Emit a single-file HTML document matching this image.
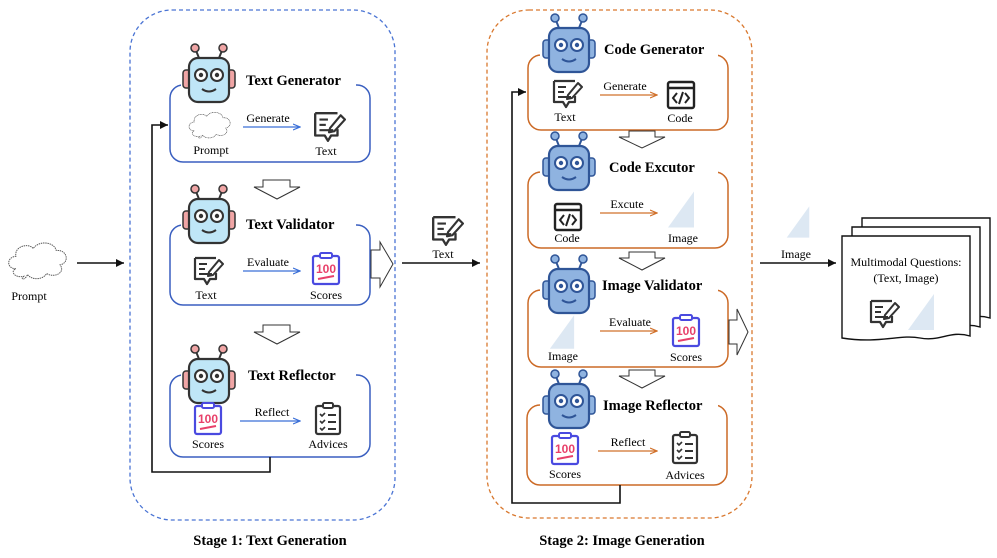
<!DOCTYPE html>
<html><head><meta charset="utf-8"><style>
body{margin:0;background:#fff}
svg{display:block}
text{font-family:"Liberation Serif",serif}
</style></head><body>
<svg width="997" height="558" viewBox="0 0 997 558" xmlns="http://www.w3.org/2000/svg">
<defs>
<marker id="ab" markerWidth="8" markerHeight="8" refX="7" refY="4" orient="auto" markerUnits="userSpaceOnUse"><path d="M0,1 L7,4 L0,7" fill="none" stroke="#3a6fd8" stroke-width="1.2"/></marker>
<marker id="ao" markerWidth="8" markerHeight="8" refX="7" refY="4" orient="auto" markerUnits="userSpaceOnUse"><path d="M0,1 L7,4 L0,7" fill="none" stroke="#d0702a" stroke-width="1.2"/></marker>
<marker id="ak" markerWidth="10" markerHeight="10" refX="8" refY="5" orient="auto" markerUnits="userSpaceOnUse"><path d="M0,1 L8,5 L0,9 Z" fill="#111"/></marker>
<symbol id="robot1" viewBox="0 0 56 64">
<line x1="18" y1="16" x2="14" y2="6" stroke="#333" stroke-width="2"/><line x1="38" y1="16" x2="42" y2="6" stroke="#333" stroke-width="2"/>
<circle cx="14" cy="6" r="4" fill="#f0a5a5" stroke="#333" stroke-width="1.5"/><circle cx="42" cy="6" r="4" fill="#f0a5a5" stroke="#333" stroke-width="1.5"/>
<rect x="2" y="28" width="8" height="18" rx="3" fill="#f0a5a5" stroke="#333" stroke-width="1.5"/><rect x="46" y="28" width="8" height="18" rx="3" fill="#f0a5a5" stroke="#333" stroke-width="1.5"/>
<rect x="8" y="16" width="40" height="44" rx="9" fill="#bfe6f7" stroke="#333" stroke-width="2.2"/>
<circle cx="20" cy="33" r="6" fill="#fff" stroke="#333" stroke-width="2"/><circle cx="36" cy="33" r="6" fill="#fff" stroke="#333" stroke-width="2"/>
<circle cx="20" cy="33" r="2.2" fill="#333"/><circle cx="36" cy="33" r="2.2" fill="#333"/>
<path d="M21 47 Q28 52 35 47" fill="none" stroke="#333" stroke-width="2"/>
</symbol>
<symbol id="robot2" viewBox="0 0 56 64">
<line x1="18" y1="16" x2="14" y2="6" stroke="#2f5597" stroke-width="2"/><line x1="38" y1="16" x2="42" y2="6" stroke="#2f5597" stroke-width="2"/>
<circle cx="14" cy="6" r="4" fill="#8fb3e0" stroke="#2f5597" stroke-width="1.5"/><circle cx="42" cy="6" r="4" fill="#8fb3e0" stroke="#2f5597" stroke-width="1.5"/>
<rect x="2" y="28" width="8" height="18" rx="3" fill="#8fb3e0" stroke="#2f5597" stroke-width="1.5"/><rect x="46" y="28" width="8" height="18" rx="3" fill="#8fb3e0" stroke="#2f5597" stroke-width="1.5"/>
<rect x="8" y="16" width="40" height="44" rx="9" fill="#8fb3e0" stroke="#2f5597" stroke-width="2.2"/>
<circle cx="20" cy="33" r="6" fill="#fff" stroke="#2f5597" stroke-width="2"/><circle cx="36" cy="33" r="6" fill="#fff" stroke="#2f5597" stroke-width="2"/>
<circle cx="20" cy="33" r="2.2" fill="#2f5597"/><circle cx="36" cy="33" r="2.2" fill="#2f5597"/>
<path d="M21 47 Q28 52 35 47" fill="none" stroke="#2f5597" stroke-width="2"/>
</symbol>
<symbol id="texticon" viewBox="0 0 32 32">
<path d="M3 3 H24 M3 3 V24 H12 L15 29 L18 24 H24 V18" fill="none" stroke="#333" stroke-width="2.2" stroke-linejoin="round"/>
<line x1="7" y1="9" x2="15" y2="9" stroke="#333" stroke-width="2"/><line x1="7" y1="14" x2="13" y2="14" stroke="#333" stroke-width="2"/><line x1="7" y1="19" x2="20" y2="19" stroke="#333" stroke-width="2"/>
<path d="M17 17 L27 5 L31 9 L21 20 L16 21 Z" fill="none" stroke="#333" stroke-width="2" stroke-linejoin="round"/>
</symbol>
<symbol id="scores" viewBox="0 0 30 34">
<rect x="2" y="4" width="26" height="28" rx="2" fill="#fff" stroke="#4a4ae0" stroke-width="2.2"/>
<rect x="9" y="1" width="12" height="5" rx="1.5" fill="#fff" stroke="#4a4ae0" stroke-width="2"/>
<text x="15" y="21" text-anchor="middle" font-size="12" font-weight="bold" fill="#e8406a" style="font-family:'Liberation Sans',sans-serif">100</text>
<line x1="7" y1="27" x2="23" y2="24" stroke="#e8406a" stroke-width="2"/>
</symbol>
<symbol id="advices" viewBox="0 0 30 34">
<rect x="3" y="4" width="24" height="28" rx="2" fill="#fff" stroke="#333" stroke-width="2.2"/>
<rect x="10" y="1" width="10" height="5" rx="1.5" fill="#fff" stroke="#333" stroke-width="2"/>
<path d="M7 12 l2 2 l3 -3 M7 19 l2 2 l3 -3 M7 26 l2 2 l3 -3" fill="none" stroke="#333" stroke-width="1.6"/>
<line x1="15" y1="13" x2="23" y2="13" stroke="#333" stroke-width="2"/><line x1="15" y1="20" x2="23" y2="20" stroke="#333" stroke-width="2"/><line x1="15" y1="27" x2="23" y2="27" stroke="#333" stroke-width="2"/>
</symbol>
<symbol id="code" viewBox="0 0 30 30">
<rect x="2" y="2" width="26" height="26" rx="2" fill="#fff" stroke="#222" stroke-width="2.4"/>
<line x1="2" y1="8" x2="28" y2="8" stroke="#222" stroke-width="2.4"/>
<path d="M11 13 L7 18 L11 23 M19 13 L23 18 L19 23 M17 12 L13 24" fill="none" stroke="#222" stroke-width="2"/>
</symbol>
<symbol id="tri" viewBox="0 0 30 40">
<path d="M2 38 L28 2 L28 38 Z" fill="#dde8f3"/>
<text x="30" y="22" font-size="3" fill="#666">b</text>
</symbol>
<symbol id="cloud" viewBox="0 0 70 50">
<path d="M12 32 C2 32 2 20 12 19 C10 8 26 5 30 11 C36 2 52 4 54 13 C66 12 68 26 58 28 C64 36 52 42 44 37 C40 44 28 44 24 38 C22 44 16 44 20 40 C10 42 6 34 12 32 Z" fill="#fff" stroke="#555" stroke-width="1" stroke-dasharray="1.5 0.8"/>
</symbol>
</defs>

<!-- Stage containers -->
<rect x="130" y="10" width="265" height="510" rx="42" fill="none" stroke="#4a74d4" stroke-width="1.3" stroke-dasharray="4 3"/>
<rect x="487" y="10" width="265" height="508" rx="42" fill="none" stroke="#d9782e" stroke-width="1.3" stroke-dasharray="4 3"/>

<!-- Prompt -->
<use href="#cloud" x="4" y="238" width="68" height="48"/>
<text x="29" y="300" font-size="12" text-anchor="middle">Prompt</text>
<line x1="77" y1="263" x2="124" y2="263" stroke="#111" stroke-width="1.6" marker-end="url(#ak)"/>

<!-- Stage 1 boxes -->
<g fill="none" stroke="#3a5fc0" stroke-width="1.5">
<rect x="170" y="85" width="200" height="77" rx="13"/>
<rect x="170" y="225" width="200" height="80" rx="13"/>
<rect x="170" y="375" width="200" height="82" rx="13"/>
</g>
<g fill="#fff" stroke="none">
<rect x="181" y="70" width="175" height="22"/>
<rect x="181" y="212" width="175" height="20"/>
<rect x="181" y="362" width="175" height="20"/>
</g>
<use href="#robot1" x="181" y="42" width="56" height="64"/>
<use href="#robot1" x="181" y="183" width="56" height="64"/>
<use href="#robot1" x="181" y="343" width="56" height="64"/>
<g font-size="14.5" font-weight="bold">
<text x="246" y="85">Text Generator</text>
<text x="246" y="229">Text Validator</text>
<text x="248" y="380">Text Reflector</text>
</g>
<!-- row 1 -->
<use href="#cloud" x="186" y="108" width="48" height="36"/>
<text x="211" y="154" font-size="12" text-anchor="middle">Prompt</text>
<text x="268" y="122" font-size="12" text-anchor="middle">Generate</text>
<line x1="243" y1="127" x2="300" y2="127" stroke="#3a6fd8" stroke-width="1.2" marker-end="url(#ab)"/>
<use href="#texticon" x="312" y="110" width="34" height="34"/>
<text x="326" y="155" font-size="12" text-anchor="middle">Text</text>
<!-- row 2 -->
<use href="#texticon" x="192" y="255" width="32" height="32"/>
<text x="206" y="299" font-size="12" text-anchor="middle">Text</text>
<text x="268" y="266" font-size="12" text-anchor="middle">Evaluate</text>
<line x1="243" y1="271" x2="300" y2="271" stroke="#3a6fd8" stroke-width="1.2" marker-end="url(#ab)"/>
<use href="#scores" x="311" y="251" width="30" height="36"/>
<text x="326" y="299" font-size="12" text-anchor="middle">Scores</text>
<!-- row 3 -->
<use href="#scores" x="193" y="401" width="30" height="36"/>
<text x="208" y="448" font-size="12" text-anchor="middle">Scores</text>
<text x="272" y="416" font-size="12" text-anchor="middle">Reflect</text>
<line x1="240" y1="421" x2="300" y2="421" stroke="#3a6fd8" stroke-width="1.2" marker-end="url(#ab)"/>
<use href="#advices" x="313" y="401" width="30" height="36"/>
<text x="328" y="448" font-size="12" text-anchor="middle">Advices</text>
<!-- hollow down arrows stage1 -->
<g fill="#fff" stroke="#333" stroke-width="1">
<path d="M263 180 H290 V187 H300 L277 199 L254 187 H263 Z"/>
<path d="M263 325 H290 V332 H300 L277 344 L254 332 H263 Z"/>
<path d="M371 250 H380 V242 L393 264 L380 287 V278 H371 Z"/>
</g>
<!-- feedback stage1 -->
<path d="M270 457 V472 H152 V125 H168" fill="none" stroke="#111" stroke-width="1.6" marker-end="url(#ak)"/>

<!-- middle text -->
<use href="#texticon" x="430" y="214" width="34" height="34"/>
<text x="443" y="258" font-size="12" text-anchor="middle">Text</text>
<line x1="402" y1="263" x2="480" y2="263" stroke="#111" stroke-width="1.6" marker-end="url(#ak)"/>

<!-- Stage 2 boxes -->
<g fill="none" stroke="#cc6a26" stroke-width="1.5">
<rect x="528" y="55" width="200" height="75" rx="13"/>
<rect x="528" y="172" width="200" height="76" rx="13"/>
<rect x="528" y="290" width="200" height="77" rx="13"/>
<rect x="527" y="405" width="200" height="80" rx="13"/>
</g>
<g fill="#fff" stroke="none">
<rect x="540" y="40" width="178" height="22"/>
<rect x="540" y="158" width="178" height="20"/>
<rect x="540" y="276" width="178" height="20"/>
<rect x="540" y="392" width="178" height="20"/>
</g>
<use href="#robot2" x="541" y="12" width="56" height="64"/>
<use href="#robot2" x="541" y="130" width="56" height="64"/>
<use href="#robot2" x="541" y="253" width="56" height="64"/>
<use href="#robot2" x="541" y="368" width="56" height="64"/>
<g font-size="14.5" font-weight="bold">
<text x="604" y="54">Code Generator</text>
<text x="609" y="172">Code Excutor</text>
<text x="602" y="290">Image Validator</text>
<text x="603" y="410">Image Reflector</text>
</g>
<!-- s2 row1 -->
<use href="#texticon" x="551" y="78" width="32" height="32"/>
<text x="565" y="121" font-size="12" text-anchor="middle">Text</text>
<text x="625" y="90" font-size="12" text-anchor="middle">Generate</text>
<line x1="600" y1="95" x2="657" y2="95" stroke="#d0702a" stroke-width="1.2" marker-end="url(#ao)"/>
<use href="#code" x="666" y="80" width="30" height="30"/>
<text x="680" y="122" font-size="12" text-anchor="middle">Code</text>
<!-- s2 row2 -->
<use href="#code" x="553" y="202" width="30" height="30"/>
<text x="567" y="242" font-size="12" text-anchor="middle">Code</text>
<text x="627" y="208" font-size="12" text-anchor="middle">Excute</text>
<line x1="600" y1="213" x2="657" y2="213" stroke="#d0702a" stroke-width="1.2" marker-end="url(#ao)"/>
<use href="#tri" x="666" y="188" width="30" height="43"/>
<text x="683" y="242" font-size="12" text-anchor="middle">Image</text>
<!-- s2 row3 -->
<use href="#tri" x="548" y="312" width="28" height="40"/>
<text x="563" y="360" font-size="12" text-anchor="middle">Image</text>
<text x="630" y="326" font-size="12" text-anchor="middle">Evaluate</text>
<line x1="600" y1="331" x2="657" y2="331" stroke="#d0702a" stroke-width="1.2" marker-end="url(#ao)"/>
<use href="#scores" x="671" y="313" width="30" height="36"/>
<text x="686" y="361" font-size="12" text-anchor="middle">Scores</text>
<!-- s2 row4 -->
<use href="#scores" x="550" y="431" width="30" height="36"/>
<text x="565" y="478" font-size="12" text-anchor="middle">Scores</text>
<text x="628" y="446" font-size="12" text-anchor="middle">Reflect</text>
<line x1="598" y1="451" x2="657" y2="451" stroke="#d0702a" stroke-width="1.2" marker-end="url(#ao)"/>
<use href="#advices" x="670" y="430" width="30" height="36"/>
<text x="685" y="479" font-size="12" text-anchor="middle">Advices</text>
<!-- hollow arrows stage 2 -->
<g fill="#fff" stroke="#333" stroke-width="1">
<path d="M629 131 H655 V137 H665 L642 148 L619 137 H629 Z"/>
<path d="M629 252 H655 V258 H665 L642 270 L619 258 H629 Z"/>
<path d="M629 370 H655 V376 H665 L642 388 L619 376 H629 Z"/>
<path d="M729 320 H737 V309 L748 332 L737 355 V344 H729 Z"/>
</g>
<!-- feedback stage 2 -->
<path d="M620 485 V503 H512 V92 H526" fill="none" stroke="#111" stroke-width="1.6" marker-end="url(#ak)"/>

<!-- output -->
<use href="#tri" x="785" y="203" width="26" height="38"/>
<text x="796" y="258" font-size="12" text-anchor="middle">Image</text>
<line x1="760" y1="263" x2="836" y2="263" stroke="#111" stroke-width="1.6" marker-end="url(#ak)"/>
<g fill="#fff" stroke="#111" stroke-width="1.4">
<path d="M862 218 H990 V318 C970 312 960 324 940 320 C920 316 900 326 862 320 Z"/>
<path d="M852 227 H980 V327 C960 321 950 333 930 329 C910 325 890 335 852 329 Z"/>
<path d="M842 236 H970 V336 C950 330 940 342 920 338 C900 334 880 344 842 338 Z"/>
</g>
<text x="906" y="266" font-size="12" text-anchor="middle">Multimodal Questions:</text>
<text x="906" y="282" font-size="12" text-anchor="middle">(Text, Image)</text>
<use href="#texticon" x="868" y="298" width="32" height="32"/>
<use href="#tri" x="906" y="292" width="30" height="40"/>

<!-- stage labels -->
<text x="270" y="545" font-size="14.5" font-weight="bold" text-anchor="middle">Stage 1: Text Generation</text>
<text x="622" y="545" font-size="14.5" font-weight="bold" text-anchor="middle">Stage 2: Image Generation</text>
</svg>
</body></html>
